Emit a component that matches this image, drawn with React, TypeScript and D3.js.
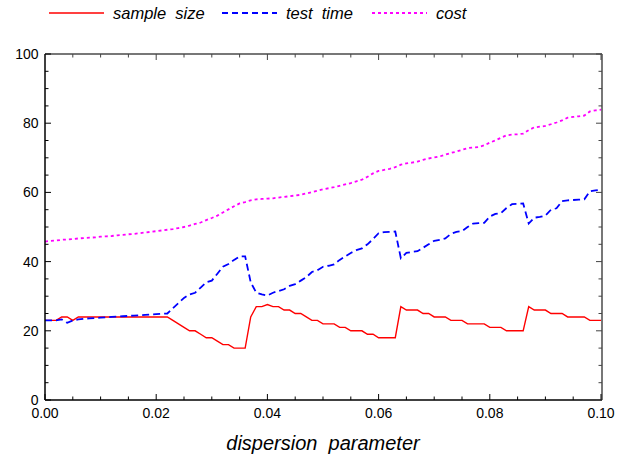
import React from "react";
import * as d3 from "d3";

const xValues: number[] = d3.range(0, 101).map((i) => i / 1000);

const sampleSize: number[] = [
  23, 23, 23, 24, 24, 23, 24, 24, 24, 24,
  24, 24, 24, 24, 24, 24, 24, 24, 24, 24,
  24, 24, 24, 23, 22, 21, 20, 20, 19, 18,
  18, 17, 16, 16, 15, 15, 15, 24, 27, 27,
  27.6, 27, 27, 26, 26, 25, 25, 24, 23, 23,
  22, 22, 22, 21, 21, 20, 20, 20, 19, 19,
  18, 18, 18, 18, 27, 26, 26, 26, 25, 25,
  24, 24, 24, 23, 23, 23, 22, 22, 22, 22,
  21, 21, 21, 20, 20, 20, 20, 27, 26, 26,
  26, 25, 25, 25, 24, 24, 24, 24, 23, 23,
  23,
];

const testTime: number[] = [
  23, 23, 23, 23.3, 22.3, 23, 23.3, 23.5, 23.6, 23.7,
  23.8, 23.9, 24, 24.1, 24.2, 24.3, 24.4, 24.5, 24.6, 24.7,
  24.8, 24.9, 25, 26.5, 28, 29.5, 30.5, 31, 32.5, 34,
  34.5, 36.5, 38.5, 39.3, 40.5, 41.5, 41.5, 34, 31, 30.5,
  30.2, 31, 31.5, 32, 33, 33.5, 34.5, 35.5, 37, 37.5,
  38.5, 38.8, 39.2, 40.5, 41.5, 42.5, 43.3, 43.8, 45, 46.5,
  48.2, 48.5, 48.6, 48.7, 41, 42.5, 42.8, 43, 44, 45,
  46, 46.3, 46.7, 48, 48.6, 48.8, 50, 51, 51.1, 51.2,
  53, 53.8, 54, 55.5, 56.6, 56.7, 56.8, 51, 52.7, 52.9,
  53.3, 55, 55.4, 57.5, 57.7, 57.8, 57.9, 58, 60.3, 60.6,
  60.8,
];

const cost: number[] = [
  45.8, 46, 46.1, 46.3, 46.4, 46.5, 46.7, 46.8, 46.9, 47,
  47.2, 47.3, 47.4, 47.6, 47.7, 47.9, 48, 48.2, 48.4, 48.6,
  48.8, 49, 49.2, 49.4, 49.7, 50, 50.4, 50.9, 51.3, 52,
  52.6, 53.3, 54.2, 55.1, 56, 56.8, 57.2, 57.7, 58, 58.1,
  58.2, 58.3, 58.5, 58.7, 58.9, 59.1, 59.3, 59.7, 60.1, 60.5,
  60.9, 61.2, 61.5, 61.9, 62.3, 62.7, 63.2, 63.7, 64.5, 65.5,
  66.2, 66.5, 66.8, 67.3, 68, 68.4, 68.6, 68.9, 69.4, 69.8,
  70.1, 70.4, 70.9, 71.4, 71.8, 72.3, 72.8, 73, 73.1, 73.6,
  74.4, 75, 75.8, 76.5, 76.7, 76.8, 77, 78, 78.8, 79,
  79.2, 79.7, 80.2, 80.8, 81.6, 81.8, 82, 82.2, 83.4, 83.7,
  83.9,
];

const xMajorTicks: number[] = [0, 0.02, 0.04, 0.06, 0.08, 0.1];
const xTickLabels: string[] = ["0.00", "0.02", "0.04", "0.06", "0.08", "0.10"];
const yMajorTicks: number[] = [0, 20, 40, 60, 80, 100];
const yTickLabels: string[] = ["0", "20", "40", "60", "80", "100"];

const seriesNames: string[] = ["sample  size", "test  time", "cost"];
const seriesColors: string[] = ["#ff0000", "#0000ff", "#ff00ff"];
const seriesDash: string[] = ["none", "7,4", "3,3"];
const xTitle = "dispersion  parameter";

export default function App() {
  const W = 639;
  const H = 462;
  const left = 45;
  const right = 602;
  const top = 54;
  const bottom = 400;

  const x = d3.scaleLinear().domain([0, 0.1]).range([left, 601]);
  const y = d3.scaleLinear().domain([0, 100]).range([bottom, top]);

  const xMinor = d3.range(0, 21).map((i) => i * 0.005);
  const yMinor = d3.range(0, 21).map((i) => i * 5);

  const series = [sampleSize, testTime, cost];
  const line = (vals: number[]) =>
    d3
      .line<number>()
      .x((_, i) => x(xValues[i]))
      .y((d) => y(d))(vals) as string;

  const font = "'Liberation Sans', Arial, sans-serif";
  const legendX = [49, 222, 372];
  const legendLen = 55;
  const legendDash: string[] = ["none", "6,4", "3,3"];

  return (
    <svg
      width={W}
      height={H}
      style={{ position: "absolute", left: 0, top: 0, background: "#fff" }}
      fontFamily={font}
    >
      <rect x={0} y={0} width={W} height={H} fill="#fff" />
      {/* series */}
      {series.map((vals, i) => (
        <path
          key={i}
          d={line(vals)}
          fill="none"
          stroke={seriesColors[i]}
          strokeWidth={i === 0 ? 1.4 : 1.8}
          strokeDasharray={seriesDash[i]}
        />
      ))}
      {/* frame */}
      <line x1={left} x2={right} y1={top} y2={top} stroke="#777" strokeWidth={2} />
      <line x1={right} x2={right} y1={top} y2={bottom} stroke="#777" strokeWidth={2} />
      <line x1={left} x2={left} y1={top} y2={bottom} stroke="#000" strokeWidth={1.5} />
      <line x1={left} x2={right} y1={bottom} y2={bottom} stroke="#000" strokeWidth={1.5} />
      {/* x ticks */}
      {xMinor.map((t, i) => {
        const major = i % 4 === 0;
        const len = major ? 6 : 3.5;
        const px = x(t);
        return (
          <g key={"xt" + i}>
            <line x1={px} x2={px} y1={bottom} y2={bottom - len} stroke="#000" strokeWidth={1} />
            <line x1={px} x2={px} y1={top} y2={top + len} stroke="#444" strokeWidth={1} />
          </g>
        );
      })}
      {yMinor.map((v, i) => {
        const major = i % 4 === 0;
        const len = major ? 6 : 3.5;
        const py = y(v);
        return (
          <g key={"yt" + i}>
            <line x1={left} x2={left + len} y1={py} y2={py} stroke="#000" strokeWidth={1} />
            <line x1={right} x2={right - len} y1={py} y2={py} stroke="#444" strokeWidth={1} />
          </g>
        );
      })}
      {/* tick labels */}
      {xMajorTicks.map((t, i) => (
        <text key={"xl" + i} x={x(t)} y={418} textAnchor="middle" fontSize={14} fill="#000">
          {xTickLabels[i]}
        </text>
      ))}
      {yMajorTicks.map((v, i) => (
        <text key={"yl" + i} x={38.5} y={y(v) + 5} textAnchor="end" fontSize={14} fill="#000">
          {yTickLabels[i]}
        </text>
      ))}
      {/* axis title */}
      <text
        x={323}
        y={450}
        textAnchor="middle"
        fontSize={20}
        fontStyle="italic"
        fill="#000"
        style={{ whiteSpace: "pre" }}
      >
        {xTitle}
      </text>
      {/* legend */}
      {seriesNames.map((name, i) => (
        <g key={"lg" + i}>
          <line
            x1={legendX[i]}
            x2={legendX[i] + legendLen}
            y1={13}
            y2={13}
            stroke={seriesColors[i]}
            strokeWidth={i === 0 ? 1.4 : 1.8}
            strokeDasharray={legendDash[i]}
          />
          <text
            x={legendX[i] + legendLen + 9}
            y={19}
            fontSize={16.5}
            fontStyle="italic"
            fill="#000"
            style={{ whiteSpace: "pre" }}
          >
            {name}
          </text>
        </g>
      ))}
    </svg>
  );
}
